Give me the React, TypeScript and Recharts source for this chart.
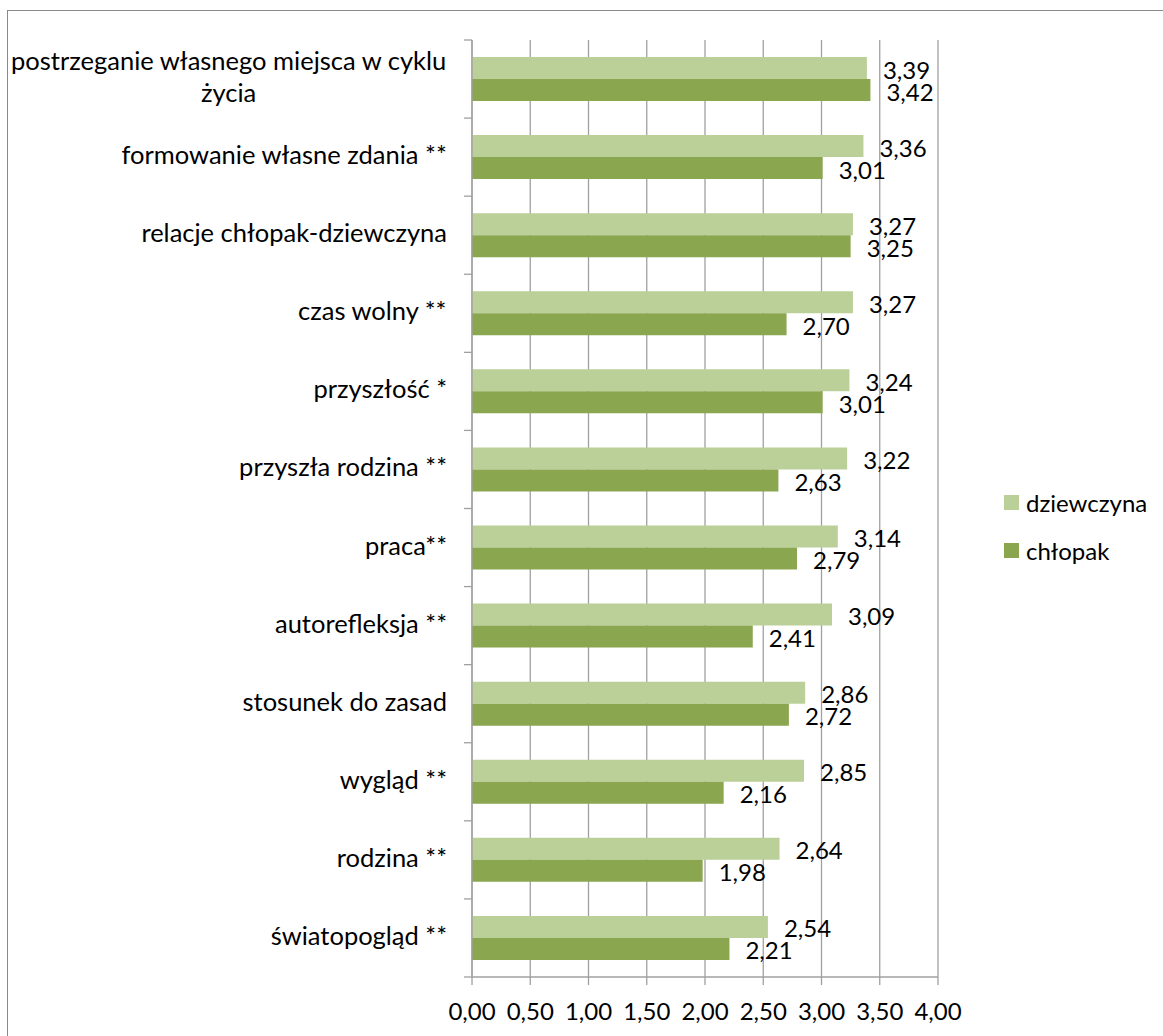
import React from 'react';
import { BarChart, Bar, XAxis, YAxis, CartesianGrid, LabelList } from 'recharts';

const categories = [
  'postrzeganie własnego miejsca w cyklu życia',
  'formowanie własne zdania **',
  'relacje chłopak-dziewczyna',
  'czas wolny **',
  'przyszłość *',
  'przyszła rodzina **',
  'praca**',
  'autorefleksja **',
  'stosunek do zasad',
  'wygląd **',
  'rodzina **',
  'światopogląd **',
];

const girls = [3.39, 3.36, 3.27, 3.27, 3.24, 3.22, 3.14, 3.09, 2.86, 2.85, 2.64, 2.54];
const boys = [3.42, 3.01, 3.25, 2.7, 3.01, 2.63, 2.79, 2.41, 2.72, 2.16, 1.98, 2.21];

const xTicks = [0, 0.5, 1, 1.5, 2, 2.5, 3, 3.5, 4];

const seriesNames = ['dziewczyna', 'chłopak'];
const seriesColors = ['#BBCF99', '#8AA64E'];

const data = categories.map((name, i) => ({
  name,
  [seriesNames[0]]: girls[i],
  [seriesNames[1]]: boys[i],
}));

const WIDTH = 1163;
const HEIGHT = 1036;
const PLOT_LEFT = 472;
const PLOT_RIGHT = 938;
const PLOT_TOP = 40;
const PLOT_BOTTOM = 977;
const LABEL_RIGHT = 447;
const LABEL_MAX = 445;
const FONT = 'Lato, "Open Sans", sans-serif';
const CAT_SIZE = 25.5;
const NUM_SIZE = 24;
const GRID = '#A0A0A0';

const fmt = (v: number) => v.toFixed(2).replace('.', ',');

let ctx: CanvasRenderingContext2D | null = null;
function measure(text: string) {
  if (!ctx) {
    ctx = document.createElement('canvas').getContext('2d');
  }
  if (!ctx) return text.length * CAT_SIZE * 0.48;
  ctx.font = `${CAT_SIZE}px Lato`;
  return ctx.measureText(text).width;
}

// break a category name into lines no wider than the label column
function wrap(text: string) {
  const words = text.split(' ');
  const lines: string[] = [];
  let cur = '';
  for (const w of words) {
    const next = cur ? `${cur} ${w}` : w;
    if (cur && measure(next) > LABEL_MAX) {
      lines.push(cur);
      cur = w;
    } else {
      cur = next;
    }
  }
  if (cur) lines.push(cur);
  return lines;
}

function CategoryTick(props: any) {
  const { y, payload, index } = props;
  const lines = wrap(String(payload.value));
  const widest = Math.max(...lines.map(measure));
  const cx = LABEL_RIGHT - widest / 2;
  const half = payload.offset || (PLOT_BOTTOM - PLOT_TOP) / categories.length / 2;
  const n = lines.length;
  return (
    <g>
      <line x1={PLOT_LEFT - 8} x2={PLOT_LEFT} y1={y - half} y2={y - half} stroke={GRID} strokeWidth={1.3} />
      {index === categories.length - 1 && (
        <line x1={PLOT_LEFT - 8} x2={PLOT_LEFT} y1={y + half} y2={y + half} stroke={GRID} strokeWidth={1.3} />
      )}
      {lines.map((ln, i) => (
        <text
          key={i}
          x={cx}
          y={y + 7 - (n - 1) * 16 + i * 32}
          textAnchor="middle"
          fontFamily={FONT}
          fontSize={CAT_SIZE}
          fill="#000"
        >
          {ln}
        </text>
      ))}
    </g>
  );
}

export default function App() {
  return (
    <div
      style={{
        position: 'absolute',
        left: 0,
        top: 0,
        width: WIDTH,
        height: HEIGHT,
        overflow: 'hidden',
        background: '#fff',
        fontFamily: FONT,
      }}
    >
      <div
        style={{
          position: 'absolute',
          left: 7,
          top: 10,
          width: WIDTH + 40,
          height: HEIGHT + 40,
          border: '1.5px solid #8a8a8a',
        }}
      />
      <div style={{ position: 'absolute', left: 0, top: 0 }}>
        <BarChart
          width={WIDTH}
          height={HEIGHT}
          data={data}
          layout="vertical"
          margin={{ top: PLOT_TOP, right: WIDTH - PLOT_RIGHT, bottom: 0, left: 0 }}
          barSize={22}
          barGap={0}
        >
          <CartesianGrid horizontal={false} stroke={GRID} strokeWidth={1.3} />
          <XAxis
            type="number"
            domain={[0, 4]}
            ticks={xTicks}
            tickFormatter={fmt}
            height={HEIGHT - PLOT_BOTTOM}
            tickSize={8}
            tickMargin={18}
            axisLine={{ stroke: GRID, strokeWidth: 1.3 }}
            tickLine={{ stroke: GRID, strokeWidth: 1.3 }}
            tick={{ fill: '#000', fontSize: NUM_SIZE, fontFamily: FONT }}
            interval={0}
          />
          <YAxis
            type="category"
            dataKey="name"
            width={PLOT_LEFT}
            axisLine={{ stroke: GRID, strokeWidth: 1.3 }}
            tickLine={false}
            tick={<CategoryTick />}
            interval={0}
          />
          {seriesNames.map((s, i) => (
            <Bar key={s} dataKey={s} fill={seriesColors[i]} isAnimationActive={false}>
              <LabelList
                dataKey={s}
                position="right"
                offset={16}
                formatter={(v: any) => fmt(Number(v))}
                fill="#000"
                fontSize={NUM_SIZE}
                fontFamily={FONT}
                dy={2}
              />
            </Bar>
          ))}
        </BarChart>
      </div>
      {seriesNames.map((s, i) => (
        <div
          key={s}
          style={{
            position: 'absolute',
            left: 1004,
            top: 488 + i * 48,
            height: 28,
            display: 'flex',
            alignItems: 'center',
            fontSize: NUM_SIZE,
            color: '#000',
            whiteSpace: 'nowrap',
          }}
        >
          <span style={{ width: 15, height: 15, background: seriesColors[i], marginRight: 7, display: 'inline-block' }} />
          {s}
        </div>
      ))}
    </div>
  );
}
